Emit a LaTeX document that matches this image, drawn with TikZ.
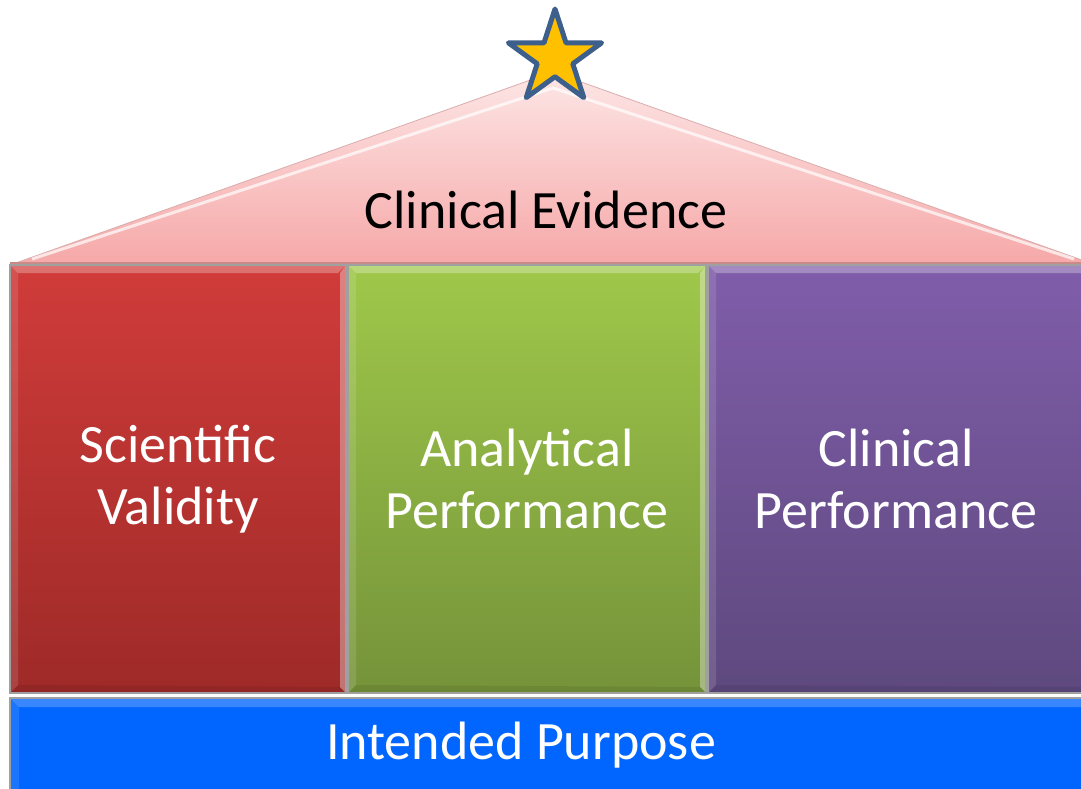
\documentclass[tikz,border=0pt]{standalone}
\usepackage{fontspec}
\setmainfont{Carlito}
\usetikzlibrary{shapes.geometric}
\definecolor{roofTop}{HTML}{FDE6E6}
\definecolor{roofBot}{HTML}{F6A8A8}
\definecolor{roofEdge}{HTML}{C98A8A}
\definecolor{redTop}{HTML}{D03C3A}
\definecolor{redBot}{HTML}{9E2A28}
\definecolor{greenTop}{HTML}{9FC84A}
\definecolor{greenBot}{HTML}{75933A}
\definecolor{purpleTop}{HTML}{805DAA}
\definecolor{purpleBot}{HTML}{5E497E}
\definecolor{baseBlue}{HTML}{0066FF}
\definecolor{starFill}{HTML}{FFC000}
\definecolor{starLine}{HTML}{3D5F8C}
\definecolor{seam}{HTML}{A0A0A0}
\tikzset{
  % lighter bands along the edges give the blocks a bevelled look
  bevel/.style={path picture={
    \coordinate (nw) at (path picture bounding box.north west);
    \coordinate (ne) at (path picture bounding box.north east);
    \coordinate (sw) at (path picture bounding box.south west);
    \coordinate (se) at (path picture bounding box.south east);
    \fill[white, opacity=0.28] (nw) -- (ne) -- ([shift={(-8,8)}]ne) -- ([shift={(8,8)}]nw) -- cycle;
    \fill[white, opacity=0.12] (nw) -- ([shift={(8,8)}]nw) -- ([shift={(8,-8)}]sw) -- (sw) -- cycle;
    \fill[white, opacity=0.35] (ne) -- (se) -- ([shift={(-6,-6)}]se) -- ([shift={(-6,8)}]ne) -- cycle;
    \fill[black, opacity=0.08] (sw) -- (se) -- ([shift={(-6,-6)}]se) -- ([shift={(8,-8)}]sw) -- cycle;
  }},
  pillar/.style={rectangle, draw=seam, line width=1.2pt, inner sep=0pt, bevel,
    text=white, align=center, font=\fontsize{54}{62}\selectfont},
  label/.style={inner sep=0pt, font=\fontsize{54}{62}\selectfont},
}
\begin{document}
\begin{tikzpicture}[x=1pt, y=-1pt]
  \useasboundingbox (0,0) rectangle (1081,789);
  \clip (0,0) rectangle (1081,789);

  % roof
  \coordinate (roofL) at (10,265);
  \coordinate (roofA) at (553,72);
  \coordinate (roofR) at (1096,265);
  \shade[top color=roofTop, bottom color=roofBot] (roofL) -- (roofA) -- (roofR) -- cycle;
  \draw[roofEdge!70, line width=0.8pt] (roofL) -- (roofA) -- (roofR);
  \draw[white, opacity=0.7, line width=3pt] (32,259) -- (553,88) -- (1074,259);
  \fill[roofEdge] (10,262) rectangle (1096,266);
  \node[label] (evidence) at (546,210) {Clinical Evidence};

  % pillars
  \node[pillar, top color=redTop, bottom color=redBot,
        minimum width=336, minimum height=428] (validity) at (178,479)
        {Scientific\\Validity};
  \node[pillar, top color=greenTop, bottom color=greenBot,
        minimum width=358, minimum height=428] (analytical) at (527,479)
        {Analytical\\Performance};
  \node[pillar, top color=purpleTop, bottom color=purpleBot,
        minimum width=384, minimum height=428] (clinical) at (900,479)
        {\hspace*{-8pt}Clinical\\\hspace*{-8pt}Performance};

  % foundation
  \node[rectangle, fill=baseBlue, draw=seam, line width=1.2pt,
        minimum width=1090, minimum height=92, inner sep=0pt] (base) at (555,744) {};
  \fill[white, opacity=0.22] (11,699) -- (1100,699) -- (1092,707) -- (19,707) -- cycle;
  \fill[white, opacity=0.10] (11,699) -- (19,707) -- (19,790) -- (11,790) -- cycle;
  \node[label, text=white] (purpose) at (521,745) {Intended Purpose};

  % star on the apex
  \node[star, star points=5, star point ratio=2.618, minimum size=98pt,
        inner sep=0pt, fill=starFill, draw=starLine, line width=5pt,
        line join=round] (star) at (555,58) {};
\end{tikzpicture}
\end{document}
